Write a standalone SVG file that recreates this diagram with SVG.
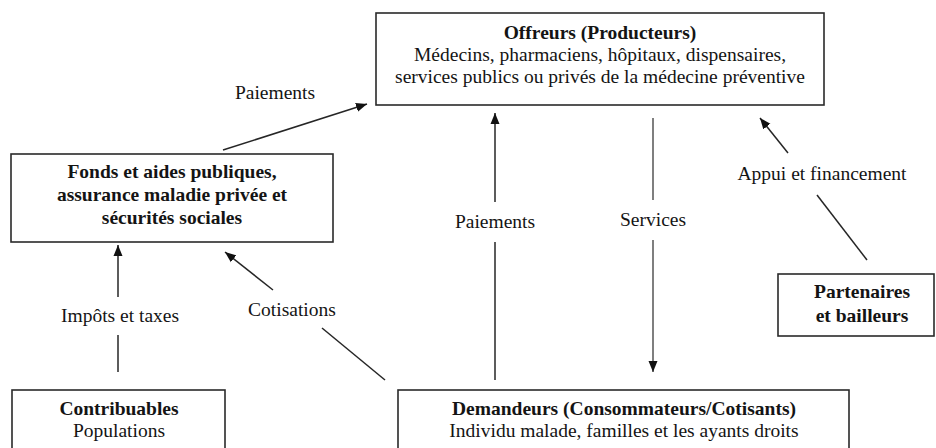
<svg xmlns="http://www.w3.org/2000/svg" width="936" height="448" viewBox="0 0 936 448">
<style>
.box{fill:#fff;stroke:#2a2a2a;stroke-width:1.6}
.t{font-family:"Liberation Serif","Times New Roman",serif;font-size:19.5px;fill:#141414;text-anchor:middle}
.b{font-weight:bold}
.ln{stroke:#262626;stroke-width:1.5;fill:none}
.lg{stroke:#555;stroke-width:1.5;fill:none}
</style>
<defs>
<marker id="ah" markerUnits="userSpaceOnUse" markerWidth="12" markerHeight="10" refX="11" refY="5" orient="auto">
<path d="M0,0.5 L11,5 L0,9.5 z" fill="#111"/>
</marker>
</defs>
<rect width="936" height="448" fill="#fff"/>

<g id="offreurs">
<rect class="box" x="376" y="13" width="448" height="92"/>
<text class="t b" x="600" y="39">Offreurs (Producteurs)</text>
<text class="t" x="600" y="61">Médecins, pharmaciens, hôpitaux, dispensaires,</text>
<text class="t" x="600" y="83">services publics ou privés de la médecine préventive</text>
</g>

<g id="fonds">
<rect class="box" x="11" y="154" width="322" height="88"/>
<text class="t b" x="172" y="178">Fonds et aides publiques,</text>
<text class="t b" x="172" y="201">assurance maladie privée et</text>
<text class="t b" x="172" y="224">sécurités sociales</text>
</g>

<g id="partenaires">
<rect class="box" x="778" y="274" width="156" height="62"/>
<text class="t b" x="862" y="298">Partenaires</text>
<text class="t b" x="862" y="322">et bailleurs</text>
</g>

<g id="contribuables">
<rect class="box" x="12" y="390" width="213" height="70"/>
<text class="t b" x="119" y="415">Contribuables</text>
<text class="t" x="119" y="437">Populations</text>
</g>

<g id="demandeurs">
<rect class="box" x="398" y="390" width="451" height="70"/>
<text class="t b" x="624" y="415">Demandeurs (Consommateurs/Cotisants)</text>
<text class="t" x="624" y="437">Individu malade, familles et les ayants droits</text>
</g>

<g id="connectors">
<line class="ln" x1="223" y1="150" x2="367" y2="104" marker-end="url(#ah)"/>
<line class="ln" x1="495" y1="380" x2="495" y2="242"/>
<line class="ln" x1="495" y1="202" x2="495" y2="113" marker-end="url(#ah)"/>
<line class="lg" x1="653" y1="118" x2="653" y2="200"/>
<line class="lg" x1="653" y1="240" x2="653" y2="372" marker-end="url(#ah)"/>
<line class="ln" x1="867" y1="260" x2="817" y2="195"/>
<line class="ln" x1="788" y1="153" x2="760" y2="118" marker-end="url(#ah)"/>
<line class="ln" x1="118" y1="372" x2="118" y2="335"/>
<line class="ln" x1="118" y1="297" x2="118" y2="245" marker-end="url(#ah)"/>
<line class="ln" x1="385" y1="380" x2="322" y2="328"/>
<line class="ln" x1="273" y1="290" x2="225" y2="252" marker-end="url(#ah)"/>
<text class="t" x="275" y="99">Paiements</text>
<text class="t" x="495" y="228">Paiements</text>
<text class="t" x="653" y="226">Services</text>
<text class="t" x="822" y="180">Appui et financement</text>
<text class="t" x="120" y="322">Impôts et taxes</text>
<text class="t" x="292" y="316">Cotisations</text>
</g>
</svg>
